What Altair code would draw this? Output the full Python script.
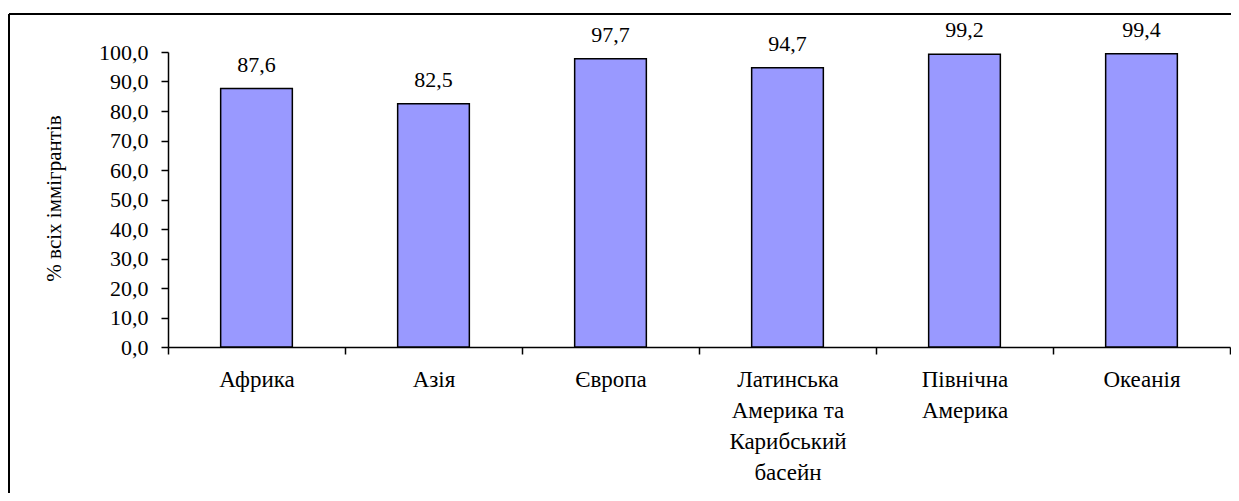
import altair as alt
import pandas as pd

categories = ["Африка", "Азія", "Європа",
              "Латинська\nАмерика та\nКарибський\nбасейн",
              "Північна\nАмерика", "Океанія"]
values = [87.6, 82.5, 97.7, 94.7, 99.2, 99.4]
y_ticks = [0, 10, 20, 30, 40, 50, 60, 70, 80, 90, 100]
y_title = "% всіх іммігрантів"

df = pd.DataFrame({"region": categories, "value": values})

W, H = 1062, 295
FONT = "Times New Roman, Liberation Serif, DejaVu Serif, serif"

x_enc = alt.X("region:N", sort=categories, title=None,
              scale=alt.Scale(paddingInner=0, paddingOuter=0),
              axis=alt.Axis(labelExpr="isValid(datum.value) ? split(datum.value, '\\n') : ''",
                            labelAngle=0,
                            labelFont=FONT, labelFontSize=23, labelLineHeight=31,
                            labelColor="black", labelPadding=14,
                            tickBand="extent", tickSize=7, tickColor="black",
                            tickWidth=1.5, domainColor="black", domainWidth=1.5,
                            labelBaseline="top", labelOverlap=False))
y_enc = alt.Y("value:Q", title=y_title,
              scale=alt.Scale(domain=[0, 100], nice=False),
              axis=alt.Axis(values=y_ticks, labelOverlap=False,
                            labelExpr="replace(format(datum.value, '.1f'), '.', ',')",
                            labelFont=FONT, labelFontSize=22, labelColor="black",
                            labelPadding=13, tickSize=7, tickColor="black",
                            tickWidth=1.5, domainColor="black", domainWidth=1.5,
                            grid=False, titleFont=FONT, titleFontSize=21,
                            titleFontWeight="normal", titleColor="black",
                            titleAngle=-90, titleX=-114, titleY=146,
                            titleAlign="center", titleBaseline="middle"))

bars = alt.Chart(df).mark_bar(
    width=alt.RelativeBandSize(0.405), color="#9999FF",
    stroke="black", strokeWidth=1.5
).encode(x=x_enc, y=y_enc)

labels = alt.Chart(df).transform_calculate(
    lab="replace(format(datum.value, '.1f'), '.', ',')"
).mark_text(font=FONT, fontSize=22, color="black", baseline="bottom",
            dy=-12).encode(x=x_enc, y=y_enc, text="lab:N")

border_top = alt.Chart(df).mark_rule(color="black", strokeWidth=2).encode(
    x=alt.value(-159), x2=alt.value(W + 40), y=alt.value(-38))
border_left = alt.Chart(df).mark_rule(color="black", strokeWidth=2).encode(
    x=alt.value(-159), y=alt.value(-38), y2=alt.value(H + 200))

chart = alt.layer(bars, labels, border_top, border_left).properties(
    width=W, height=H,
    autosize=alt.AutoSizeParams(type="none"),
    padding={"left": 160, "top": 44, "right": 1, "bottom": 146},
    background="white",
).configure_view(stroke=None).configure_axis(
    labelFont=FONT, titleFont=FONT
).configure_text(font=FONT)

chart.save("out.html", embed_options={"renderer": "svg", "actions": False})
